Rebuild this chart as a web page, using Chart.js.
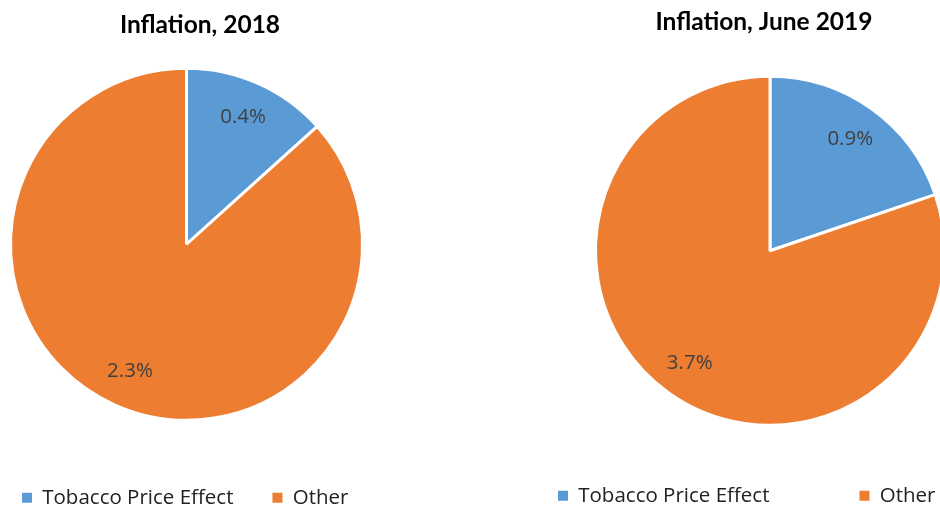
<!DOCTYPE html>
<html>
<head>
<meta charset="utf-8">
<script src="https://cdn.jsdelivr.net/npm/chart.js@4.4.1/dist/chart.umd.min.js"></script>
<style>
  body { margin: 0; background: #fff; overflow: hidden; }
  #wrap { position: relative; width: 940px; height: 506px; overflow: hidden; }
  canvas { position: absolute; top: 0; }
</style>
</head>
<body>
<div id="wrap">
  <canvas id="js--pie-2018" width="407" height="518" style="left:-17px"></canvas>
  <canvas id="js--pie-2019" width="604" height="516" style="left:468px"></canvas>
</div>
<script>
const categories = ['Tobacco Price Effect', 'Other'];
const values2018 = [0.36, 2.34];
const valuesJune2019 = [0.91, 3.69];
const chartTitles = ['Inflation, 2018', 'Inflation, June 2019'];

const sliceColors = ['#5B9BD5', '#ED7D31'];

// value labels inside the slices (Excel puts them ~80% out from the centre)
const sliceLabels = {
    id: 'sliceLabels',
    afterDatasetsDraw(chart) {
        const ctx = chart.ctx;
        const values = chart.data.datasets[0].data;
        ctx.save();
        ctx.font = '20.5px "Open Sans"';
        ctx.fillStyle = '#404040';
        ctx.textAlign = 'center';
        ctx.textBaseline = 'middle';
        chart.getDatasetMeta(0).data.forEach((arc, i) => {
            const p = arc.getProps(['x', 'y', 'startAngle', 'endAngle', 'outerRadius'], true);
            const mid = (p.startAngle + p.endAngle) / 2;
            const r = p.outerRadius * 0.79;
            ctx.fillText(values[i].toFixed(1) + '%', p.x + Math.cos(mid) * r, p.y + Math.sin(mid) * r);
        });
        ctx.restore();
    }
};

// Excel centres the title over the plot area, which is not where the pie sits
const offsetTitle = {
    id: 'offsetTitle',
    afterDraw(chart, args, opts) {
        const ctx = chart.ctx;
        ctx.save();
        ctx.font = 'bold 24.5px Lato';
        ctx.fillStyle = '#000000';
        ctx.textAlign = 'center';
        ctx.textBaseline = 'alphabetic';
        ctx.fillText(opts.text, opts.x, opts.y);
        ctx.restore();
    }
};

function makePie(id, title, values, radius, top, titleX, titleY, legendPadding) {
    return new Chart(document.getElementById(id).getContext('2d'), {
        type: 'pie',
        data: {
            labels: categories,
            datasets: [{
                data: values,
                backgroundColor: sliceColors,
                borderColor: '#ffffff',
                borderWidth: 3,
                radius: radius
            }]
        },
        options: {
            responsive: false,
            animation: false,
            layout: { padding: { top: top } },
            plugins: {
                title: { display: false },
                offsetTitle: { text: title, x: titleX, y: titleY },
                legend: {
                    position: 'bottom',
                    align: 'start',
                    labels: {
                        boxWidth: 10,
                        boxHeight: 10,
                        padding: legendPadding,
                        color: '#222222',
                        font: { family: 'Open Sans', size: 20.5 },
                        generateLabels: chart => Chart.overrides.pie.plugins.legend.labels.generateLabels(chart)
                            .map(item => ({ ...item, lineWidth: 0 }))
                    }
                }
            }
        },
        plugins: [sliceLabels, offsetTitle]
    });
}

makePie('js--pie-2018', chartTitles[0], values2018, 176, 40, 217, 33, 39);
makePie('js--pie-2019', chartTitles[1], valuesJune2019, 174.5, 106, 296, 30, 90);
</script>
</body>
</html>
